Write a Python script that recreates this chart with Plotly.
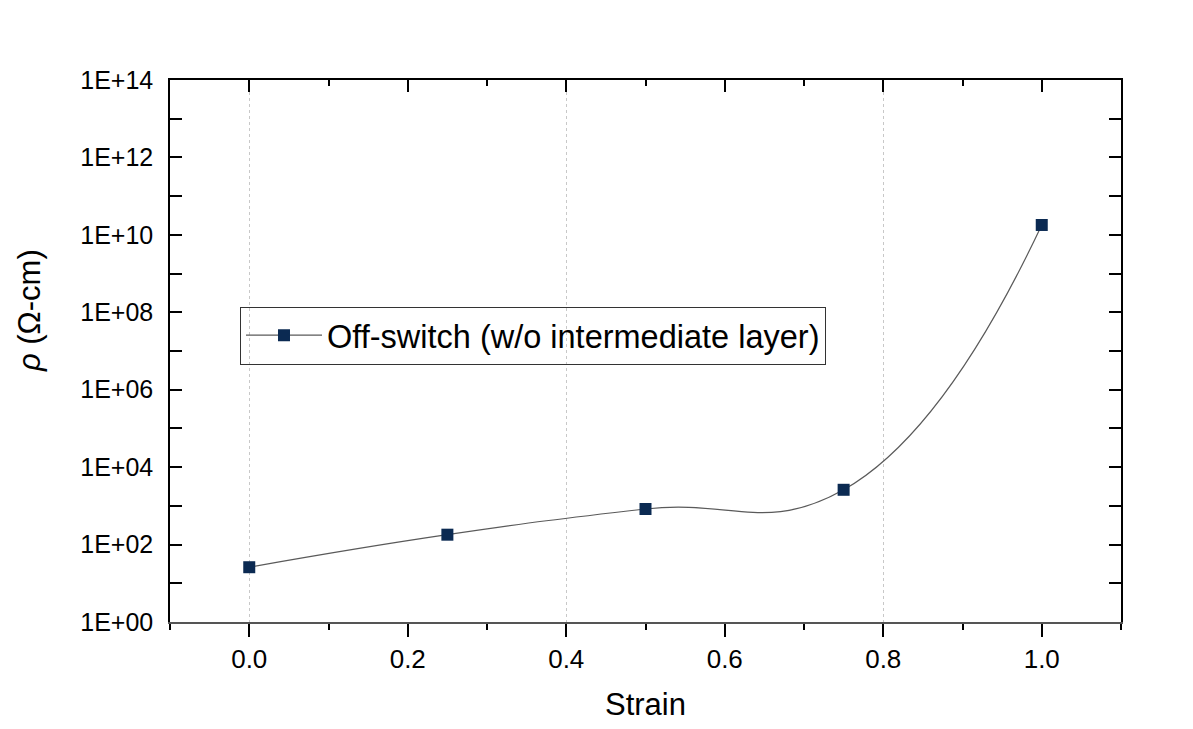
import plotly.graph_objects as go

# Resistivity of the off-switch versus applied strain
strain = [0.0, 0.25, 0.5, 0.75, 1.0]
resistivity = [26, 180, 830, 2600, 1.8e10]
series_name = "Off-switch (w/o intermediate layer)"

y_major = [10 ** k for k in range(0, 15, 2)]
y_labels = ["1E+%02d" % k for k in range(0, 15, 2)]
y_minor = [10 ** k for k in range(1, 15, 2)]

x_range = [-0.1, 1.1]
navy = "#0b2a52"
font_family = "Liberation Sans, Arial, sans-serif"

fig = go.Figure()
fig.add_trace(go.Scatter(
    x=strain, y=resistivity, name=series_name,
    mode="lines+markers",
    line=dict(color="#5a5a5a", width=1.2, shape="spline", smoothing=1.3),
    marker=dict(symbol="square", size=12, color=navy,
                line=dict(color=navy, width=0)),
))

fig.update_layout(
    width=1193, height=729,
    paper_bgcolor="white", plot_bgcolor="white",
    margin=dict(l=170, r=72, t=80, b=107),
    font=dict(family=font_family, color="black"),
    showlegend=True,
    legend=dict(
        x=0.0736, y=0.582, xanchor="left", yanchor="top",
        bgcolor="rgba(255,255,255,0)",
        bordercolor="#333", borderwidth=1,
        font=dict(size=32.5, family=font_family),
        itemwidth=76, tracegroupgap=0,
    ),
    xaxis=dict(
        range=x_range, dtick=0.2, tick0=0, tickformat=".1f",
        ticks="outside", ticklen=13, tickwidth=1.5, tickcolor="black",
        minor=dict(dtick=0.1, ticks="outside", ticklen=6, tickwidth=1.5, tickcolor="black"),
        showline=True, linecolor="#555", linewidth=1.5,
        showgrid=False, zeroline=False,
        tickfont=dict(size=26),
        title=dict(text="Strain", font=dict(size=31), standoff=20),
    ),
    # top frame with inward ticks
    xaxis2=dict(
        overlaying="x", matches="x", side="top", range=x_range,
        dtick=0.2, tick0=0, showticklabels=False,
        ticks="inside", ticklen=12, tickwidth=1.5, tickcolor="black",
        minor=dict(dtick=0.1, ticks="inside", ticklen=6, tickwidth=1.5, tickcolor="black"),
        showline=True, linecolor="black", linewidth=1.5,
        showgrid=False, zeroline=False,
    ),
    # dotted vertical guides
    xaxis3=dict(
        overlaying="x", matches="x", range=x_range,
        tickvals=[0.0, 0.4, 0.8], showticklabels=False, ticks="",
        showgrid=True, gridcolor="#c8c8c8", griddash="dot", gridwidth=1,
        showline=False, zeroline=False,
    ),
    yaxis=dict(
        type="log", range=[0, 14],
        tickvals=y_major, ticktext=y_labels,
        ticks="inside", ticklen=12, tickwidth=1.5, tickcolor="black",
        minor=dict(tickvals=y_minor, ticks="inside", ticklen=12, tickwidth=1.5, tickcolor="black"),
        showline=True, linecolor="black", linewidth=1.5, mirror="ticks",
        showgrid=False, zeroline=False,
        tickfont=dict(size=25),
        ticklabelstandoff=10,
    ),
)

# y-axis title, set a little above the axis centre
fig.add_annotation(
    text="<i>ρ</i> (Ω-cm)", textangle=-90,
    xref="paper", yref="paper", x=-0.147, y=0.574,
    xanchor="center", yanchor="middle", showarrow=False,
    font=dict(size=31, family=font_family, color="black"),
)

# empty traces so the overlay axes get drawn
fig.add_trace(go.Scatter(x=[None], y=[None], xaxis="x2", showlegend=False, hoverinfo="skip"))
fig.add_trace(go.Scatter(x=[None], y=[None], xaxis="x3", showlegend=False, hoverinfo="skip"))

fig.write_html("out.html")
